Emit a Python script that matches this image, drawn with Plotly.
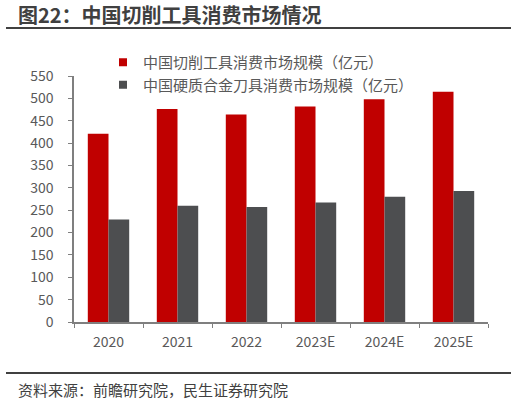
import plotly.graph_objects as go

categories = ["2020", "2021", "2022", "2023E", "2024E", "2025E"]
cutting_tools = [421, 476, 464, 482, 498, 515]
carbide_tools = [229, 260, 257, 267, 280, 293]
series_names = ["中国切削工具消费市场规模（亿元）", "中国硬质合金刀具消费市场规模（亿元）"]
series_colors = ["#C00000", "#4D4E50"]
title_text = "图22：中国切削工具消费市场情况"
source_text = "资料来源：前瞻研究院，民生证券研究院"

W, H = 516, 404
L, R, T, B = 74, 28, 76, 82
pw, ph = W - L - R, H - T - B

def px(x):
    return (x - L) / pw

def py(y):
    return (H - B - y) / ph

FONT = "Noto Sans CJK SC, Noto Sans, sans-serif"
GRAY = "#595959"

fig = go.Figure()
for vals, name, col in [(cutting_tools, series_names[0], series_colors[0]),
                        (carbide_tools, series_names[1], series_colors[1])]:
    fig.add_trace(go.Bar(x=categories, y=vals, name=name, showlegend=False,
                         marker=dict(color=col, line=dict(width=0))))
# legend entries with small square symbols
for name, col in zip(series_names, series_colors):
    fig.add_trace(go.Scatter(x=[None], y=[None], mode="markers", name=name,
                             marker=dict(symbol="square", size=8, color=col)))

fig.update_layout(
    width=W, height=H,
    margin=dict(l=L, r=R, t=T, b=B),
    paper_bgcolor="white", plot_bgcolor="white",
    barmode="group", bargap=0.4, bargroupgap=0,
    font=dict(family=FONT, size=13, color=GRAY),
    showlegend=True,
    legend=dict(x=px(103), y=py(46), xanchor="left", yanchor="top",
                font=dict(size=15, color=GRAY), tracegroupgap=0,
                bgcolor="rgba(0,0,0,0)", itemwidth=30),
    xaxis=dict(type="category", showline=True, linecolor="#7f7f7f", linewidth=1.5,
               ticks="outside", tickson="boundaries", ticklen=4, tickcolor="#7f7f7f",
               tickfont=dict(size=14, color=GRAY), showgrid=False, ticklabelstandoff=6),
    yaxis=dict(range=[0, 550], dtick=50, showline=True, linecolor="#7f7f7f", linewidth=1.5,
               ticks="outside", ticklen=4, tickcolor="#7f7f7f",
               tickfont=dict(size=14, color=GRAY), showgrid=False, zeroline=False,
               ticklabelstandoff=12),
)

fig.add_annotation(text="<b>" + title_text + "</b>", xref="paper", yref="paper",
                   x=px(16), y=py(14), xanchor="left", yanchor="middle", showarrow=False,
                   font=dict(size=20, color="#404040", family=FONT))
fig.add_annotation(text=source_text, xref="paper", yref="paper",
                   x=px(16), y=py(389), xanchor="left", yanchor="middle", showarrow=False,
                   font=dict(size=15, color="#404040", family=FONT))
fig.add_shape(type="line", xref="paper", yref="paper", x0=px(6), x1=px(511), y0=py(28), y1=py(28),
              line=dict(color="#404040", width=2))
fig.add_shape(type="line", xref="paper", yref="paper", x0=px(6), x1=px(511), y0=py(373), y1=py(373),
              line=dict(color="#404040", width=2))

fig.write_html("out.html")
